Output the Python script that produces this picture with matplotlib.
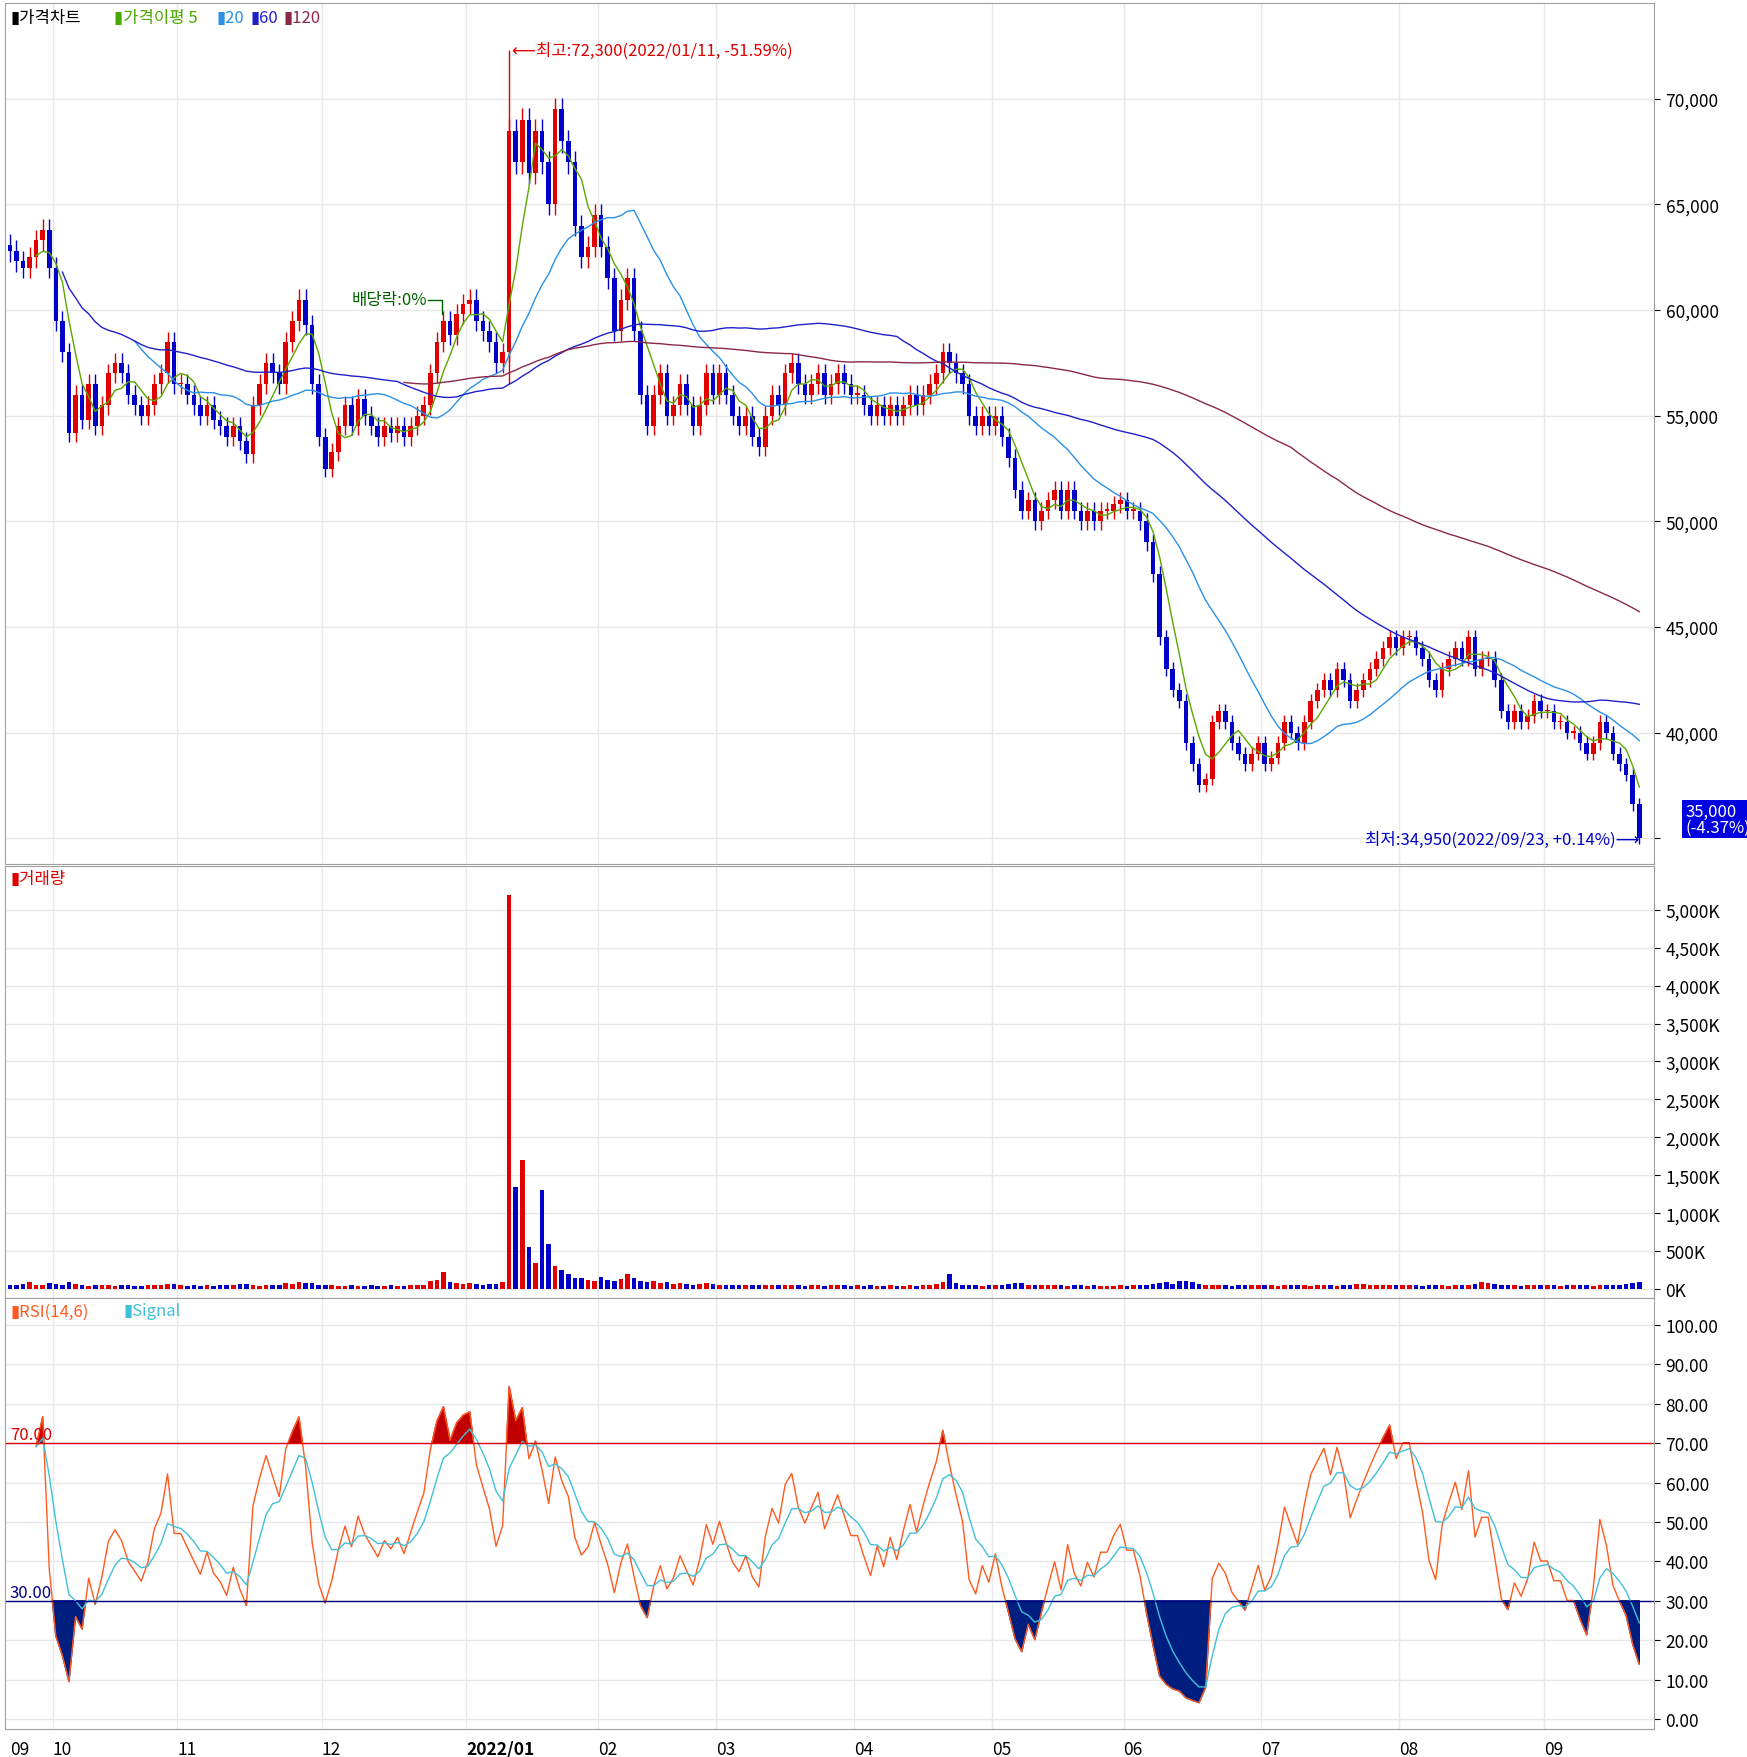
import numpy as np, pandas as pd
import matplotlib
matplotlib.use("Agg")
import matplotlib.pyplot as plt
from matplotlib.patches import Rectangle

plt.rcParams['font.family'] = ['Noto Sans CJK KR', 'DejaVu Sans']

month_labels = ["09", "10", "11", "12", "2022/01", "02", "03", "04", "05", "06", "07", "08", "09"]
month_days = [7, 19, 22, 22, 20, 18, 21, 21, 20, 21, 21, 22, 15]

closes = [
 62800,62300,62000,62500,63300,63800,62000,
 59500,58000,54200,56000,54800,56500,54500,55500,57000,57500,57000,56000,55500,55000,55500,56500,57000,58500,56500,
 56500,56000,55500,55000,55500,54800,54500,54000,54500,53800,53200,55500,56500,57500,57000,56500,58500,59500,60500,59300,56500,54000,
 52500,53300,54500,55500,54500,55800,55000,54500,54000,54500,54200,54500,54000,54500,55000,55500,57000,58500,59500,58800,59800,60300,
 60500,59500,59000,58500,57500,58000,68500,67000,69000,66500,68500,67000,65000,69500,68000,67000,64000,62500,63000,64500,
 63000,61500,59000,60500,61500,59000,56000,54500,56000,57000,55000,55500,56500,55500,54500,55500,57000,56000,
 57000,56000,55000,54500,55000,54000,53500,55000,56000,55500,57000,57500,56500,56000,56500,57000,56000,56500,57000,56500,56000,
 56000,55500,55000,55500,55000,55500,55000,55500,56000,55500,56000,56500,57000,58000,57500,57000,56500,55000,54500,55000,54500,
 55000,54000,53000,51500,50500,51000,50000,50500,51000,51500,50500,51500,50500,50000,50500,50000,50500,50500,50800,51000,
 50500,50500,50000,49000,47500,44500,43000,42000,41500,39500,38500,37500,37800,40500,41000,40500,39500,39000,38500,39000,39500,
 38500,38800,39500,40500,40000,39500,40500,41500,42000,42500,42000,43000,42500,41500,42000,42500,43000,43500,44000,44500,44000,
 44500,44500,44000,43500,42500,42000,43000,43500,44000,43500,44500,43000,43500,43500,42500,41000,40500,41000,40500,40800,41500,41000,
 41000,40500,40500,40000,40000,39500,39000,39500,40500,40000,39000,38500,38000,36600,35000]

volumes = [
 60,50,70,90,60,55,80,
 70,60,90,65,50,45,55,60,50,45,50,55,40,45,50,60,55,70,65,
 50,45,55,40,50,45,60,55,50,70,65,60,45,55,50,60,80,70,90,80,75,60,
 60,50,45,40,50,45,40,55,45,40,50,45,40,50,55,60,100,120,220,90,80,70,
 80,70,60,65,70,90,5200,1350,1700,550,350,1300,600,300,250,200,150,140,120,110,
 160,120,100,130,200,140,100,90,110,80,90,70,80,70,60,65,80,70,
 60,55,50,60,55,60,50,55,60,50,55,60,50,45,55,50,45,50,55,50,45,
 50,45,55,40,45,50,45,40,50,45,55,60,70,90,200,80,60,50,55,45,50,
 50,60,70,80,75,60,55,50,60,55,50,45,50,55,45,50,45,40,45,50,
 45,50,55,60,70,80,90,70,100,110,90,70,60,55,60,50,45,50,55,60,50,
 55,50,45,50,55,60,50,45,55,60,50,45,55,60,70,65,60,55,50,60,55,
 60,55,50,45,55,60,50,45,55,50,60,70,90,80,70,60,55,50,45,50,55,60,
 55,50,45,50,55,60,50,45,55,60,50,60,70,80,90]

n = len(closes)
c = np.array(closes, float)
o = np.empty(n); o[0] = c[0] + 300; o[1:] = c[:-1]
hi = np.maximum(o, c) * 1.008
lo = np.minimum(o, c) * 0.992
idx = np.arange(n)
s = pd.Series(c)
ma5 = s.rolling(5, min_periods=1).mean()
ma20 = s.rolling(20, min_periods=1).mean()
ma60 = s.rolling(60, min_periods=1).mean()
ma120 = s.rolling(120, min_periods=1).mean()

d = s.diff().fillna(0)
up = d.clip(lower=0).ewm(span=14, adjust=True).mean()
dn = (-d.clip(upper=0)).ewm(span=14, adjust=True).mean()
rsi = (100 * up / (up + dn)).fillna(50)
rsi[:4] = np.nan
sig = rsi.ewm(span=6, adjust=False).mean()

starts = np.concatenate([[0], np.cumsum(month_days)[:-1]])

fig = plt.figure(figsize=(17.47, 17.58), dpi=100)
L, W = 0.003, 0.944
ax1 = fig.add_axes([L, 0.508, W, 0.490])
ax2 = fig.add_axes([L, 0.261, W, 0.246])
ax3 = fig.add_axes([L, 0.016, W, 0.245])
RED, BLUE = '#e00000', '#0000c8'
for ax in (ax1, ax2, ax3):
    ax.set_xlim(-0.7, n + 1.3)
    ax.yaxis.tick_right()
    ax.tick_params(axis='y', length=4, labelsize=12.5, pad=4)
    ax.tick_params(axis='x', length=0)
    for b in starts[1:]:
        ax.axvline(b - 0.5, color='#e8e8e8', lw=1, zorder=0)
    ax.grid(axis='y', color='#e8e8e8', lw=1)
    ax.set_axisbelow(True)
    for sp in ax.spines.values():
        sp.set_color('#a0a0a0')

# price
for i in idx:
    col = RED if c[i] >= o[i] else BLUE
    ax1.vlines(i, lo[i], hi[i], color=col, lw=1)
    ax1.add_patch(Rectangle((i - 0.35, min(o[i], c[i])), 0.7, max(abs(c[i] - o[i]), 60), color=col, lw=0))
jan11 = starts[4] + 6
ax1.vlines(jan11, 56500, 72300, color=RED, lw=1)
ax1.plot(idx[4:], ma5[4:], color='#5aa800', lw=1)
ax1.plot(idx[19:], ma20[19:], color='#2a90e8', lw=1)
ax1.plot(idx[8:], ma60[8:], color='#2020c8', lw=1)
ax1.plot(idx[60:], ma120[60:], color='#8b2848', lw=1)
ax1.set_ylim(33780, 74560)
pt = list(range(35000, 75000, 5000))
ax1.set_yticks(pt)
ax1.set_yticklabels(["" if v == 35000 else f"{v:,}" for v in pt])
ax1.set_xticks([])
ax1.text(jan11 + 0.5, 72300, "⟵최고:72,300(2022/01/11, -51.59%)", color=RED, fontsize=12, va='center')
ax1.text(n - 1, 34950, "최저:34,950(2022/09/23, +0.14%)⟶", color=BLUE, fontsize=12, va='center', ha='right')
dv = starts[3] + 18
ax1.text(dv - 2.5, 60500, "배당락:0%", color='#006000', fontsize=12, va='center', ha='right')
ax1.plot([dv - 2.3, dv - 0.3, dv - 0.3], [60500, 60500, 59800], color='#006000', lw=1)
ax1.text(n + 6, 35900, "35,000\n(-4.37%)", color='white', fontsize=12, va='center', ha='left',
         bbox=dict(facecolor='#0000e0', edgecolor='none', pad=2), linespacing=0.9, clip_on=False)
ax1.text(0.003, 0.993, "▮가격차트", color='black', fontsize=12, transform=ax1.transAxes, va='top')
for t, col, xs in [("▮가격이평 5", '#4aa800', 0.066), ("▮20", '#2a90e8', 0.128),
                   ("▮60", '#2020c8', 0.149), ("▮120", '#8b2848', 0.169)]:
    ax1.text(xs, 0.993, t, color=col, fontsize=12, transform=ax1.transAxes, va='top')

# volume
vc = [RED if c[i] >= o[i] else BLUE for i in idx]
ax2.bar(idx, volumes, width=0.7, color=vc)
ax2.set_ylim(-120, 5580)
vt = list(range(0, 5001, 500))
ax2.set_yticks(vt)
ax2.set_yticklabels([f"{v:,}K" for v in vt])
ax2.set_xticks([])
ax2.text(0.003, 0.99, "▮거래량", color=RED, fontsize=12, transform=ax2.transAxes, va='top')

# RSI
r = rsi.values
ok = ~np.isnan(r)
ax3.fill_between(idx[ok], r[ok], 70, where=r[ok] > 70, color='#c00000', interpolate=True)
ax3.fill_between(idx[ok], r[ok], 30, where=r[ok] < 30, color='#001e80', interpolate=True)
ax3.plot(idx, r, color='#ff5a1e', lw=1)
ax3.plot(idx, sig, color='#40c0d8', lw=1)
ax3.axhline(70, color='#e00000', lw=1)
ax3.axhline(30, color='#000080', lw=1)
ax3.text(0, 71, "70.00", color='#e00000', fontsize=12)
ax3.text(0, 31, "30.00", color='#000080', fontsize=12)
ax3.set_ylim(-2.5, 106.8)
rt = list(range(0, 101, 10))
ax3.set_yticks(rt)
ax3.set_yticklabels([f"{v:.2f}" for v in rt])
ax3.text(0.003, 0.99, "▮RSI(14,6)", color='#ff5a1e', fontsize=12, transform=ax3.transAxes, va='top')
ax3.text(0.072, 0.99, "▮Signal", color='#40c0d8', fontsize=12, transform=ax3.transAxes, va='top')
ax3.set_xticks([])
for k, (st, lab) in enumerate(zip(starts, month_labels)):
    xpos = st - 0.5 if k else 0
    ax3.text(xpos, -0.025, lab, transform=ax3.get_xaxis_transform(), ha='left', va='top',
             fontsize=12.5, fontweight='bold' if '2022' in lab else 'normal')

fig.savefig("out.png", dpi=100)
